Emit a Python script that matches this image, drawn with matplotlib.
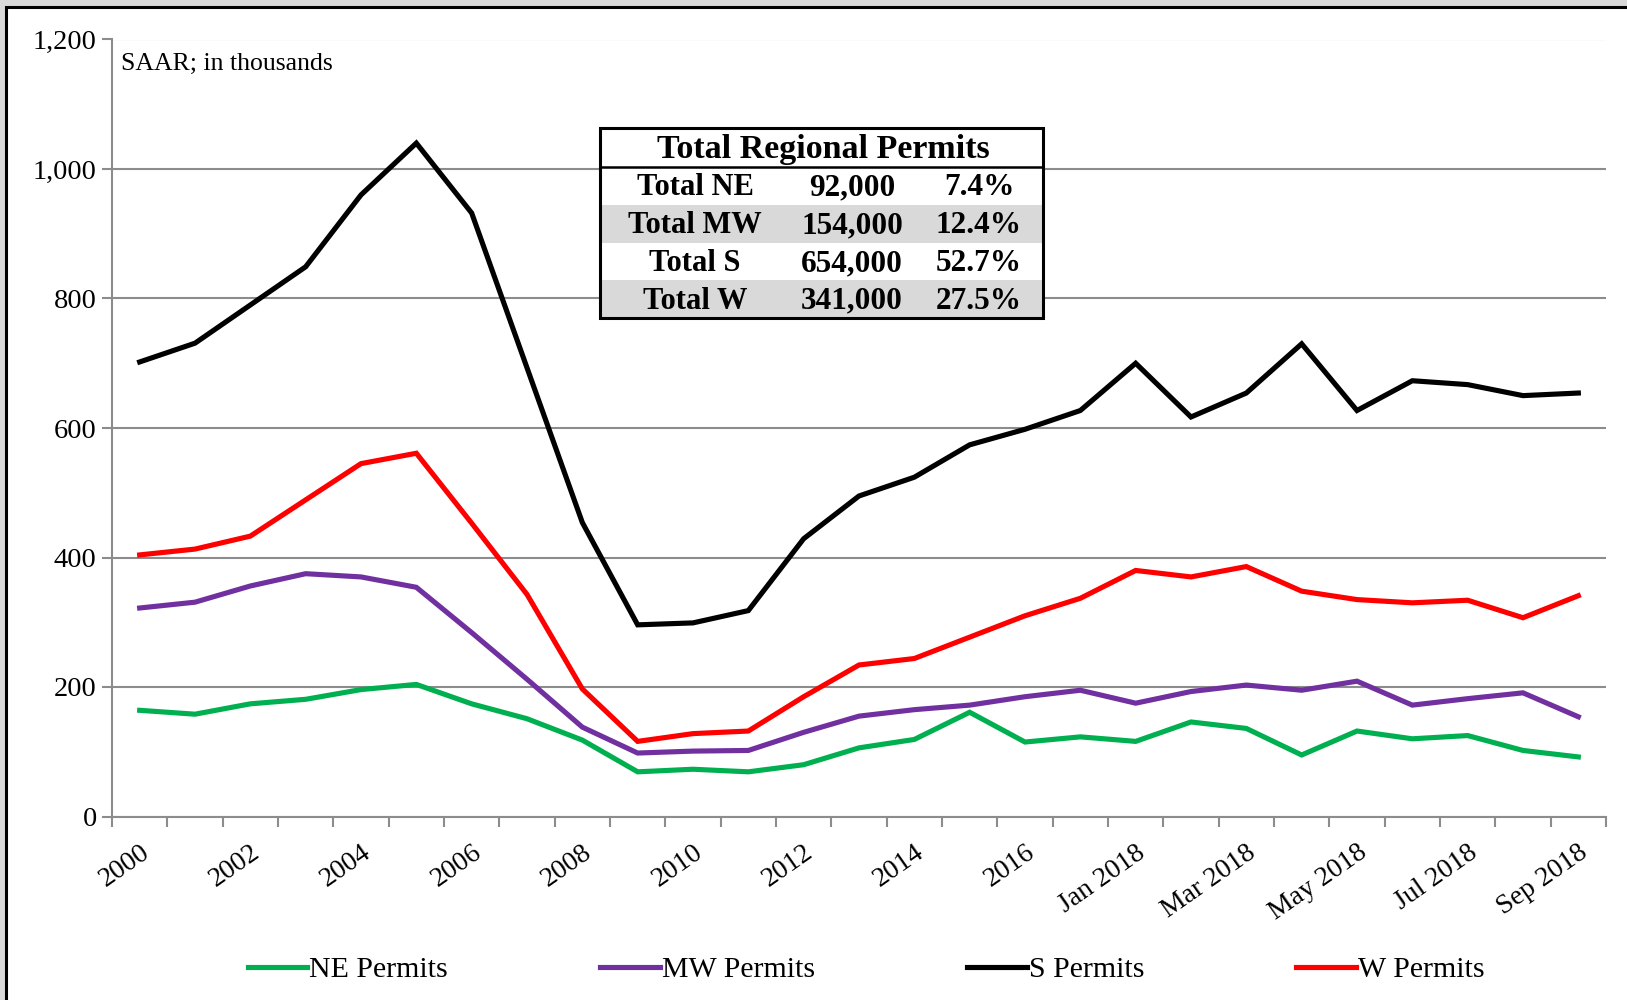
import matplotlib
matplotlib.use("Agg")
import matplotlib.pyplot as plt
from matplotlib.patches import Rectangle
from matplotlib.lines import Line2D
from matplotlib.ticker import FuncFormatter, FixedLocator

plt.rcParams['font.family'] = ['Liberation Serif', 'DejaVu Serif']

# ---- data (thousands, SAAR) ----
categories = [str(y) for y in range(2000, 2018)] + [
    "Jan 2018", "Feb 2018", "Mar 2018", "Apr 2018", "May 2018",
    "Jun 2018", "Jul 2018", "Aug 2018", "Sep 2018"]
tick_labels = ["2000", "2002", "2004", "2006", "2008", "2010", "2012", "2014", "2016",
               "Jan 2018", "Mar 2018", "May 2018", "Jul 2018", "Sep 2018"]

ne_permits = [164, 158, 174, 181, 196, 204, 174, 151, 118, 69, 73, 69, 80, 106, 119, 161, 115, 123,
              116, 146, 136, 95, 132, 120, 125, 102, 92]
mw_permits = [322, 331, 356, 375, 370, 354, 284, 212, 138, 98, 101, 102, 130, 155, 165, 172, 185, 195,
              175, 193, 203, 195, 209, 172, 182, 191, 154]
s_permits = [702, 731, 790, 849, 960, 1040, 932, 693, 454, 296, 299, 318, 429, 495, 524, 574, 598, 627,
             700, 617, 654, 730, 627, 673, 667, 650, 654]
w_permits = [404, 413, 433, 489, 545, 561, 453, 343, 197, 116, 128, 132, 185, 234, 244, 277, 310, 337,
             380, 370, 386, 348, 335, 330, 334, 307, 341]

series_names = ["NE Permits", "MW Permits", "S Permits", "W Permits"]
series_colors = ["#00B050", "#7030A0", "#000000", "#FF0000"]

table_title = "Total Regional Permits"
table_labels = ["Total NE", "Total MW", "Total S", "Total W"]
table_values = ["92,000", "154,000", "654,000", "341,000"]
table_pcts = ["7.4%", "12.4%", "52.7%", "27.5%"]

W, H = 1627, 1000
fig = plt.figure(figsize=(W / 100, H / 100), dpi=100, facecolor="#d9d9d9")

def fx(px):
    return px / W

def fy(py):
    return 1 - py / H

# white chart area with black frame (extends beyond right/bottom)
fig.add_artist(Rectangle((fx(6), fy(1010)), fx(1640) - fx(6), fy(7) - fy(1010),
                         transform=fig.transFigure, facecolor="white",
                         edgecolor="black", linewidth=2.2, zorder=0))

ax = fig.add_axes([fx(112), fy(816.5), fx(1606) - fx(112), fy(39.5) - fy(816.5)])
ax.set_facecolor("none")

x = list(range(len(categories)))
for vals, name, col in zip([ne_permits, mw_permits, s_permits, w_permits], series_names, series_colors):
    ax.plot(x, vals, color=col, lw=3.7, label=name, solid_joinstyle="miter", zorder=3)

ax.set_xlim(-0.5, len(categories) - 0.5)
ax.set_ylim(0, 1200)
ax.set_yticks(range(0, 1201, 200))
ax.yaxis.set_major_formatter(FuncFormatter(lambda v, p: f"{int(v):,}"))
ax.grid(axis="y", color="#8c8c8c", lw=1.5, zorder=1)
ax.set_axisbelow(True)

# category tick marks at boundaries, labels every other category
ax.xaxis.set_major_locator(FixedLocator([i for i in range(0, len(categories), 2)]))
ax.set_xticklabels(tick_labels, rotation=35, ha="right", va="top", rotation_mode="anchor",
                   fontsize=20)
ax.xaxis.set_minor_locator(FixedLocator([i - 0.5 for i in range(len(categories) + 1)]))
ax.tick_params(axis="x", which="major", length=0, pad=17)
ax.tick_params(axis="x", which="minor", length=7, width=1.5, color="#8c8c8c")
ax.tick_params(axis="y", length=7, width=1.5, color="#8c8c8c", labelsize=20.5, pad=4)

for s in ["top", "right"]:
    ax.spines[s].set_visible(False)
for s in ["left", "bottom"]:
    ax.spines[s].set_color("#8c8c8c")
    ax.spines[s].set_linewidth(1.5)

fig.text(fx(121), fy(64), "SAAR; in thousands", fontsize=18.5, ha="left", va="center")

# ---- summary table ----
tx0, tx1 = 600, 1043
ty_top, ty_head = 128, 167
row_h = 37.8
fig.add_artist(Rectangle((fx(tx0), fy(ty_head + 4 * row_h)), fx(tx1) - fx(tx0),
                         fy(ty_top) - fy(ty_head + 4 * row_h), transform=fig.transFigure,
                         facecolor="white", edgecolor="none", zorder=5))
for i in range(4):
    top = ty_head + i * row_h
    if i % 2 == 1:
        fig.add_artist(Rectangle((fx(tx0), fy(top + row_h)), fx(tx1) - fx(tx0), row_h / H,
                                 transform=fig.transFigure, facecolor="#d9d9d9",
                                 edgecolor="none", zorder=6))
    yc = fy(top + row_h / 2 + 2)
    fig.text(fx(695), yc, table_labels[i], fontsize=22, fontweight="bold",
             ha="center", va="center", zorder=8)
    fig.text(fx(852), yc, table_values[i], fontsize=22.5, fontweight="bold",
             ha="center", va="center", zorder=8)
    fig.text(fx(979), yc, table_pcts[i], fontsize=22.5, fontweight="bold",
             ha="center", va="center", zorder=8)
fig.text(fx(823), fy((ty_top + ty_head) / 2 + 2), table_title, fontsize=24.5,
         fontweight="bold", ha="center", va="center", zorder=8)
fig.add_artist(Rectangle((fx(tx0), fy(ty_head + 4 * row_h)), fx(tx1) - fx(tx0),
                         fy(ty_top) - fy(ty_head + 4 * row_h), transform=fig.transFigure,
                         facecolor="none", edgecolor="black", linewidth=2.2, zorder=9))
fig.add_artist(Line2D([fx(tx0), fx(tx1)], [fy(ty_head), fy(ty_head)],
                      transform=fig.transFigure, color="black", lw=1.8, zorder=9))

# ---- legend ----
handles, labels = ax.get_legend_handles_labels()
fig.legend(handles, labels, loc="center", bbox_to_anchor=(fx(866), fy(970)), ncol=4,
           frameon=False, fontsize=21.5, handlelength=2.0, handletextpad=0.06,
           columnspacing=5.1)

fig.savefig("out.png", dpi=100, facecolor=fig.get_facecolor())
